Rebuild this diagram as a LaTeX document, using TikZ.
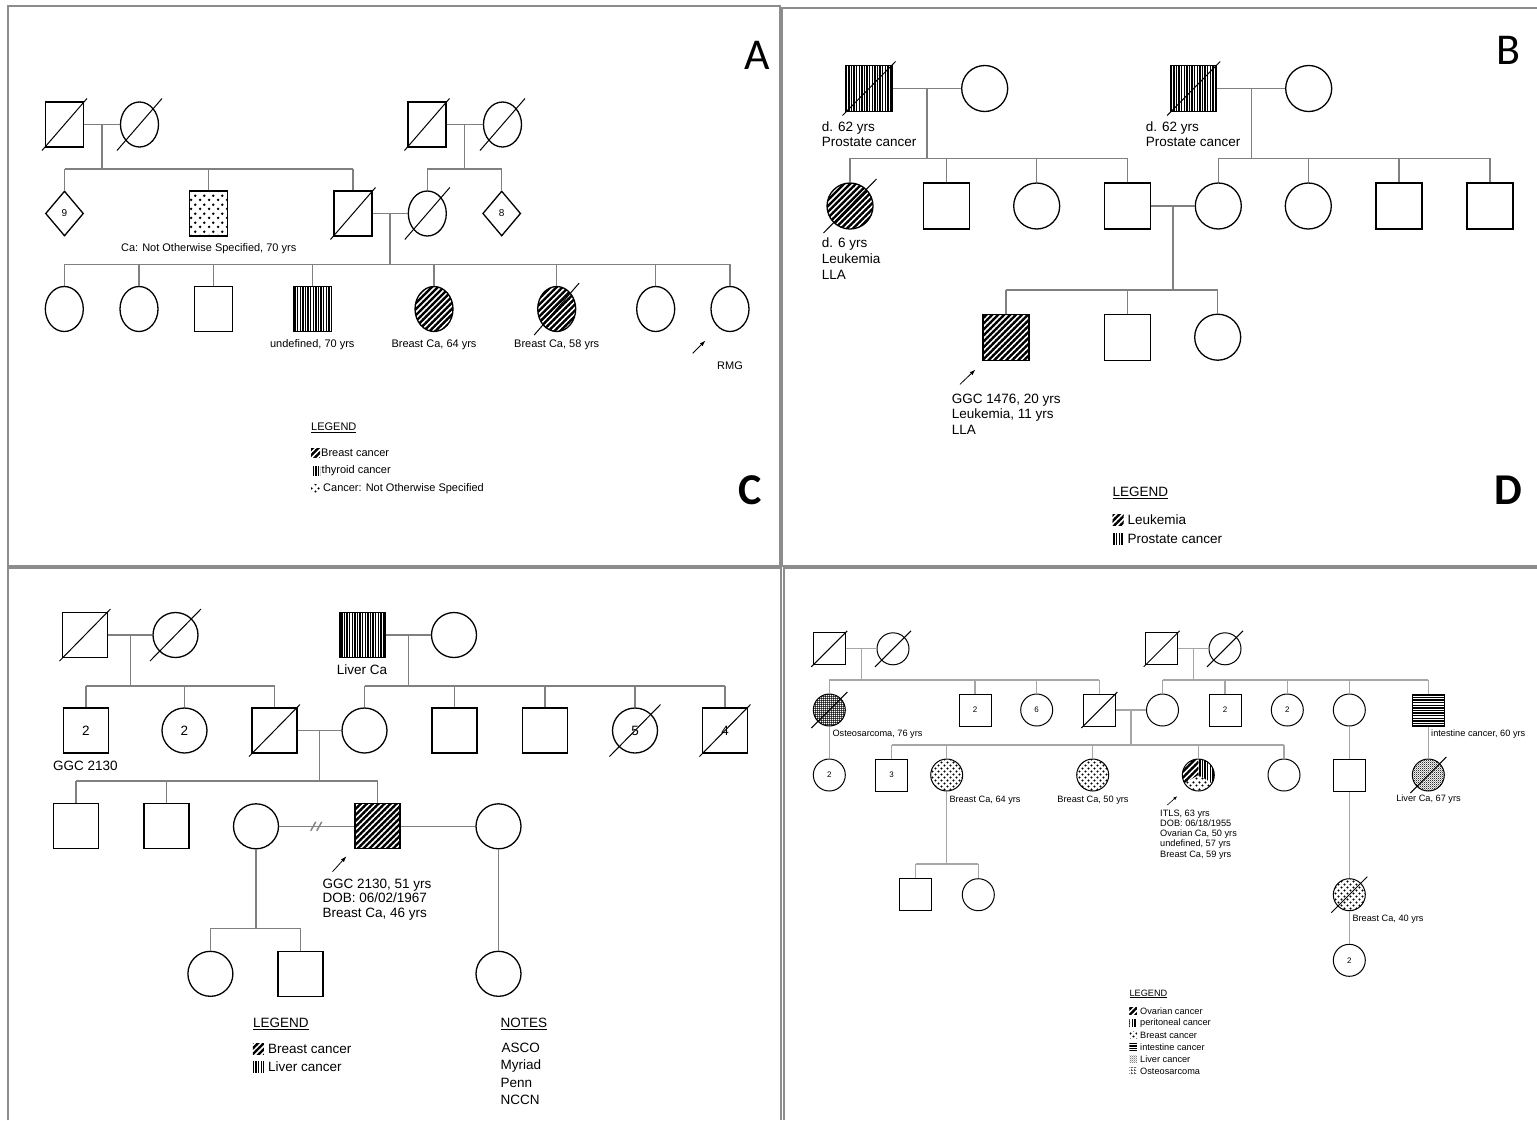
\documentclass[tikz,border=0pt]{standalone}
\usepackage{fontspec}
\setmainfont{Liberation Sans}
\newfontfamily\letterfont{Carlito}
\usetikzlibrary{shapes.geometric,patterns.meta,calc,arrows.meta}

% fill patterns of the pedigree symbols
\tikzdeclarepattern{name=hatch, type=uncolored,
  bottom left={(-.5pt,-.5pt)}, top right={(4.7pt,4.7pt)},
  tile size={(4.2pt,4.2pt)}, tile transformation={rotate=-45},
  code={\draw[line width=2.3pt] (2.1pt,-.5pt) -- (2.1pt,4.7pt);}}
\tikzdeclarepattern{name=vlines, type=uncolored,
  bottom left={(-.5pt,-.5pt)}, top right={(3.1pt,3.1pt)},
  tile size={(2.6pt,2.6pt)},
  code={\draw[line width=1.5pt] (1.3pt,-.5pt) -- (1.3pt,3.1pt);}}
\tikzdeclarepattern{name=hlines, type=uncolored,
  bottom left={(-.5pt,-.5pt)}, top right={(3.1pt,3.1pt)},
  tile size={(2.6pt,2.6pt)},
  code={\draw[line width=1.3pt] (-.5pt,1.3pt) -- (3.1pt,1.3pt);}}
\tikzdeclarepattern{name=spots, type=uncolored,
  bottom left={(0pt,0pt)}, top right={(9pt,9pt)},
  tile size={(9pt,9pt)},
  code={\fill (2.25pt,2.25pt) circle (1.5pt); \fill (6.75pt,6.75pt) circle (1.5pt);}}
\tikzdeclarepattern{name=finespots, type=uncolored,
  bottom left={(0pt,0pt)}, top right={(6.4pt,6.4pt)},
  tile size={(6.4pt,6.4pt)},
  code={\fill (1.6pt,1.6pt) circle (1.25pt); \fill (4.8pt,4.8pt) circle (1.25pt);}}
\tikzdeclarepattern{name=mesh, type=uncolored,
  bottom left={(0pt,0pt)}, top right={(2.4pt,2.4pt)},
  tile size={(2.4pt,2.4pt)},
  code={\fill (0pt,0pt) rectangle (2.4pt,.9pt); \fill (0pt,0pt) rectangle (.9pt,2.4pt);}}
\tikzdeclarepattern{name=checker, type=uncolored,
  bottom left={(0pt,0pt)}, top right={(2.2pt,2.2pt)},
  tile size={(2.2pt,2.2pt)},
  code={\fill (0pt,0pt) rectangle (1.1pt,1.1pt); \fill (1.1pt,1.1pt) rectangle (2.2pt,2.2pt);}}

\newcommand{\fa}{\fontsize{11}{13}\selectfont}
\newcommand{\fb}{\fontsize{13.5}{15.7}\selectfont}
\newcommand{\fc}{\fontsize{13.5}{14.9}\selectfont}
\newcommand{\fd}{\fontsize{9.2}{10.3}\selectfont}
% slash through a deceased person
\newcommand{\deadmark}[3]{\draw[slash] ($(#1.center)+(-#2,#3)$) -- ($(#1.center)+(#2,-#3)$);}

\begin{document}
\begin{tikzpicture}[x=1pt,y=-1pt,
    frame/.style={draw=black!45, line width=2pt},
    link/.style={draw=black!50, line width=1.4pt},
    linkd/.style={draw=black!35, line width=1.2pt},
    slash/.style={draw=black, line width=1pt},
    ind/.style={draw=black, line width=1.3pt, inner sep=0pt, fill=white},
    sqa/.style={ind, rectangle, minimum width=38pt, minimum height=45pt},
    cia/.style={ind, ellipse, minimum width=38pt, minimum height=45pt},
    dma/.style={ind, diamond, minimum width=38pt, minimum height=45pt, font=\fontsize{10}{12}\selectfont},
    sqb/.style={ind, rectangle, minimum size=46pt},
    cib/.style={ind, circle, minimum size=46pt},
    sqc/.style={ind, rectangle, minimum size=45pt, font=\fc},
    cic/.style={ind, circle, minimum size=45pt, font=\fc},
    sqd/.style={ind, line width=1pt, rectangle, minimum size=32pt, font=\fontsize{8}{9}\selectfont},
    cid/.style={ind, line width=1pt, circle, minimum size=32pt, font=\fontsize{8}{9}\selectfont},
    swatch/.style={inner sep=0pt, minimum width=#1, minimum height=#1},
    proarrow/.style={-{Latex[length=6pt,width=4pt]}, line width=.8pt, black},
    ta/.style={font=\fa, inner sep=0pt},
    tb/.style={font=\fb, inner sep=0pt},
    tc/.style={font=\fc, inner sep=0pt},
    td/.style={font=\fd, inner sep=0pt},
    letter/.style={font=\letterfont\fontsize{44}{44}\selectfont, inner sep=0pt}]

\useasboundingbox (0,0) rectangle (1537,1120);
\fill[white] (0,0) rectangle (1537,1120);

% panel frames
\draw[frame] (8,6) rectangle (780,566);
\draw[frame] (1537,8) -- (782,8) -- (782,566) -- (1537,566);
\draw[frame] (8,1120) -- (8,568) -- (781,568) -- (781,1120);
\draw[frame] (1537,568) -- (784,568) -- (784,1120);

\node[letter] (labA) at (757,55) {A};
\node[letter] (labB) at (1508,50) {B};
\node[letter, font=\letterfont\bfseries\fontsize{44}{44}\selectfont] (labC) at (750,490) {C};
\node[letter, font=\letterfont\bfseries\fontsize{44}{44}\selectfont] (labD) at (1508,490) {D};

%%%% panel A
\node[sqa] (aI1) at (64.5,124.5) {};
\node[cia] (aI2) at (139.5,124.5) {};
\node[sqa] (aI3) at (427,124.5) {};
\node[cia] (aI4) at (502.5,124.5) {};
\node[dma] (aII1) at (64.5,213.5) {9};
\node[sqa, pattern=spots] (aII2) at (208.5,213.5) {};
\node[sqa] (aII3) at (353,213.5) {};
\node[cia] (aII4) at (427.3,213.5) {};
\node[dma] (aII5) at (501.7,213.5) {8};
\node[cia] (aIII1) at (64.3,309) {};
\node[cia] (aIII2) at (139,309) {};
\node[sqa] (aIII3) at (213.3,309) {};
\node[sqa, pattern=vlines] (aIII4) at (312.3,309) {};
\node[cia, pattern=hatch] (aIII5) at (434,309) {};
\node[cia, pattern=hatch] (aIII6) at (556.7,309) {};
\node[cia] (aIII7) at (655.7,309) {};
\node[cia] (aIII8) at (730,309) {};
\foreach \n in {aI1,aI2,aI3,aI4,aII3,aII4,aIII6}{\deadmark{\n}{22.5}{26}}

\coordinate (am1) at ($(aI1)!.5!(aI2)$);
\coordinate (am2) at ($(aI3)!.5!(aI4)$);
\coordinate (am3) at ($(aII3)!.5!(aII4)$);
\coordinate (as1) at (0,169);
\coordinate (as3) at (0,264.3);
\draw[link] (aI1) -- (aI2);
\draw[link] (aI3) -- (aI4);
\draw[link] (aII3) -- (aII4);
\draw[link] (am1) -- (am1 |- as1);
\draw[link] (aII1.north |- as1) -- (aII3.north |- as1);
\foreach \n in {aII1,aII2,aII3}{\draw[link] (\n.north) -- (\n.north |- as1);}
\draw[link] (am2) -- (am2 |- as1);
\draw[link] (aII4.north |- as1) -- (aII5.north |- as1);
\foreach \n in {aII4,aII5}{\draw[link] (\n.north) -- (\n.north |- as1);}
\draw[link] (am3) -- (am3 |- as3);
\draw[link] (aIII1.north |- as3) -- (aIII8.north |- as3);
\foreach \n in {aIII1,aIII2,aIII3,aIII4,aIII5,aIII6,aIII7,aIII8}{\draw[link] (\n.north) -- (\n.north |- as3);}

\node[ta] (aT1) at (208.7,249) {Ca: Not Otherwise Specified, 70 yrs};
\node[ta] (aT2) at (312.3,345) {undefined, 70 yrs};
\node[ta] (aT3) at (434,345) {Breast Ca, 64 yrs};
\node[ta] (aT4) at (556.7,345) {Breast Ca, 58 yrs};
\coordinate (aP0) at (692.7,353.3);
\coordinate (aP1) at (705.5,340.5);
\draw[proarrow] (aP0) -- (aP1);
\node[ta] (aT5) at (730,366) {RMG};

\node[ta, anchor=west] (aLg) at (311,428) {\underline{LEGEND}};
\node[swatch=9pt, pattern=hatch] (aS1) at (315.5,453) {};
\node[swatch=9pt, pattern=vlines] (aS2) at (315.5,471) {};
\node[swatch=9pt, pattern=finespots] (aS3) at (315.5,489) {};
\node[ta, anchor=west] (aL1) at (321,453) {Breast cancer};
\node[ta, anchor=west] (aL2) at (321.5,471) {thyroid cancer};
\node[ta, anchor=west] (aL3) at (323,489) {Cancer: Not Otherwise Specified};

%%%% panel B
\node[sqb, pattern=vlines] (bI1) at (869,88.5) {};
\node[cib] (bI2) at (984.7,88.5) {};
\node[sqb, pattern=vlines] (bI3) at (1193.7,88.5) {};
\node[cib] (bI4) at (1308.7,88.5) {};
\node[cib, pattern=hatch] (bII1) at (850,206) {};
\node[sqb] (bII2) at (946.7,206) {};
\node[cib] (bII3) at (1036.7,206) {};
\node[sqb] (bII4) at (1127.7,206) {};
\node[cib] (bII5) at (1218.3,206) {};
\node[cib] (bII6) at (1308.3,206) {};
\node[sqb] (bII7) at (1399,206) {};
\node[sqb] (bII8) at (1490,206) {};
\node[sqb, pattern=hatch] (bIII1) at (1006,337.2) {};
\node[sqb] (bIII2) at (1127.7,337.2) {};
\node[cib] (bIII3) at (1217.7,337.2) {};
\foreach \n in {bI1,bI3,bII1}{\deadmark{\n}{26.5}{27}}

\coordinate (bm1) at ($(bI1)!.5!(bI2)$);
\coordinate (bm2) at ($(bI3)!.5!(bI4)$);
\coordinate (bm3) at ($(bII4)!.5!(bII5)$);
\coordinate (bs1) at (0,158.3);
\coordinate (bs3) at (0,290);
\draw[link] (bI1) -- (bI2);
\draw[link] (bI3) -- (bI4);
\draw[link] (bII4) -- (bII5);
\draw[link] (bm1) -- (bm1 |- bs1);
\draw[link] (bII1.north |- bs1) -- (bII4.north |- bs1);
\foreach \n in {bII1,bII2,bII3,bII4}{\draw[link] (\n.north) -- (\n.north |- bs1);}
\draw[link] (bm2) -- (bm2 |- bs1);
\draw[link] (bII5.north |- bs1) -- (bII8.north |- bs1);
\foreach \n in {bII5,bII6,bII7,bII8}{\draw[link] (\n.north) -- (\n.north |- bs1);}
\draw[link] (bm3) -- (bm3 |- bs3);
\draw[link] (bIII1.north |- bs3) -- (bIII3.north |- bs3);
\foreach \n in {bIII1,bIII2,bIII3}{\draw[link] (\n.north) -- (\n.north |- bs3);}

\node[tb, anchor=north west, align=left] (bT1) at (821.7,121.1) {d. 62 yrs\\Prostate cancer};
\node[tb, anchor=north west, align=left] (bT2) at (1145.7,121.1) {d. 62 yrs\\Prostate cancer};
\node[tb, anchor=north west, align=left] (bT3) at (821.7,237.8) {d. 6 yrs\\Leukemia\\LLA};
\coordinate (bP0) at (960,384.3);
\coordinate (bP1) at (975.5,369.5);
\draw[proarrow] (bP0) -- (bP1);
\node[tb, anchor=north west, align=left] (bT4) at (951.7,393.4) {GGC 1476, 20 yrs\\Leukemia, 11 yrs\\LLA};

\node[tb, anchor=west] (bLg) at (1112.3,493.3) {\underline{LEGEND}};
\node[swatch=11pt, pattern=hatch] (bS1) at (1118,520) {};
\node[swatch=11pt, pattern=vlines] (bS2) at (1118,539.3) {};
\node[tb, anchor=west] (bL1) at (1127.3,520) {Leukemia};
\node[tb, anchor=west] (bL2) at (1127.3,539.3) {Prostate cancer};

%%%% panel C
\node[sqc] (cI1) at (85,635) {};
\node[cic] (cI2) at (175.5,635) {};
\node[sqc, pattern=vlines] (cI3) at (362.5,635) {};
\node[cic] (cI4) at (454,635) {};
\node[sqc] (cII1) at (86,730.5) {2};
\node[cic] (cII2) at (184.5,730.5) {2};
\node[sqc] (cII3) at (274.5,730.5) {};
\node[cic] (cII4) at (364.5,730.5) {};
\node[sqc] (cII5) at (454.5,730.5) {};
\node[sqc] (cII6) at (545,730.5) {};
\node[cic] (cII7) at (635,730.5) {5};
\node[sqc] (cII8) at (725,730.5) {4};
\node[sqc] (cIII1) at (76,826.3) {};
\node[sqc] (cIII2) at (166.5,826.3) {};
\node[cic] (cX1) at (256,826.3) {};
\node[sqc, pattern=hatch] (cIII3) at (377.5,826.3) {};
\node[cic] (cX2) at (498.5,826.3) {};
\node[cic] (cIV1) at (210.4,973.8) {};
\node[sqc] (cIV2) at (300.4,973.8) {};
\node[cic] (cIV3) at (498.5,973.8) {};
\foreach \n in {cI1,cI2,cII3,cII7,cII8}{\deadmark{\n}{25.5}{26}}

\coordinate (cm1) at ($(cI1)!.5!(cI2)$);
\coordinate (cm2) at ($(cI3)!.5!(cI4)$);
\coordinate (cm3) at ($(cII3)!.5!(cII4)$);
\coordinate (cdv) at ($(cX1)!.5!(cIII3)$);
\coordinate (cs1) at (0,686);
\coordinate (cs3) at (0,781);
\coordinate (cs4) at (0,928.3);
\draw[link] (cI1) -- (cI2);
\draw[link] (cI3) -- (cI4);
\draw[link] (cII3) -- (cII4);
\draw[link] (cX1) -- (cIII3);
\draw[link] (cIII3) -- (cX2);
\draw[link] ($(cdv)+(-6,4.5)$) -- ($(cdv)+(-1,-4.5)$);
\draw[link] ($(cdv)+(0,4.5)$) -- ($(cdv)+(5,-4.5)$);
\draw[link] (cm1) -- (cm1 |- cs1);
\draw[link] (cII1.north |- cs1) -- (cII3.north |- cs1);
\foreach \n in {cII1,cII2,cII3}{\draw[link] (\n.north) -- (\n.north |- cs1);}
\draw[link] (cm2) -- (cm2 |- cs1);
\draw[link] (cII4.north |- cs1) -- (cII8.north |- cs1);
\foreach \n in {cII4,cII5,cII6,cII7,cII8}{\draw[link] (\n.north) -- (\n.north |- cs1);}
\draw[link] (cm3) -- (cm3 |- cs3);
\draw[link] (cIII1.north |- cs3) -- (cIII3.north |- cs3);
\foreach \n in {cIII1,cIII2,cIII3}{\draw[link] (\n.north) -- (\n.north |- cs3);}
\draw[link] (cX1.south) -- (cX1.south |- cs4);
\draw[link] (cIV1.north |- cs4) -- (cIV2.north |- cs4);
\foreach \n in {cIV1,cIV2}{\draw[link] (\n.north) -- (\n.north |- cs4);}
\draw[link] (cX2) -- (cIV3);

\node[tc] (cT1) at (85.5,766) {GGC 2130};
\node[tc] (cT2) at (362,670) {Liver Ca};
\coordinate (cP0) at (332.5,871.7);
\coordinate (cP1) at (346.5,856.2);
\draw[proarrow] (cP0) -- (cP1);
\node[tc, anchor=north west, align=left] (cT3) at (322.5,878.4) {GGC 2130, 51 yrs\\DOB: 06/02/1967\\Breast Ca, 46 yrs};

\node[tc, anchor=west] (cLg) at (252.8,1024) {\underline{LEGEND}};
\node[swatch=11pt, pattern=hatch] (cS1) at (258.4,1049.3) {};
\node[swatch=11pt, pattern=vlines] (cS2) at (258.4,1066.7) {};
\node[tc, anchor=west] (cL1) at (268,1049.3) {Breast cancer};
\node[tc, anchor=west] (cL2) at (268,1066.7) {Liver cancer};
\node[tc, anchor=west] (cNt) at (500.4,1024) {\underline{NOTES}};
\node[tc, anchor=west] (cN1) at (501.5,1048.3) {ASCO};
\node[tc, anchor=west] (cN2) at (500.4,1065.7) {Myriad};
\node[tc, anchor=west] (cN3) at (500.4,1083) {Penn};
\node[tc, anchor=west] (cN4) at (500.4,1100) {NCCN};

%%%% panel D
\node[sqd] (dI1) at (829.3,648.8) {};
\node[cid] (dI2) at (893,648.8) {};
\node[sqd] (dI3) at (1161.7,648.8) {};
\node[cid] (dI4) at (1225,648.8) {};
\node[cid, pattern=mesh] (dII1) at (829.3,710) {};
\node[sqd] (dII2) at (975,710) {2};
\node[cid] (dII3) at (1036.7,710) {6};
\node[sqd] (dII4) at (1099.3,710) {};
\node[cid] (dII5) at (1162.5,710) {};
\node[sqd] (dII6) at (1225,710) {2};
\node[cid] (dII7) at (1287.3,710) {2};
\node[cid] (dII8) at (1349.3,710) {};
\node[sqd, pattern=hlines] (dII9) at (1428.3,710) {};
\node[cid] (dIII1) at (829.3,775) {2};
\node[sqd] (dIII2) at (891.7,775) {3};
\node[cid, pattern=finespots] (dIII3) at (946.7,775) {};
\node[cid, pattern=finespots] (dIII4) at (1092.7,775) {};
\node[cid, path picture={
    \fill[pattern=hatch] (path picture bounding box.center) -- ++(0,-30) -- ++(-30,0) -- ++(0,47.3) -- cycle;
    \fill[pattern=vlines] (path picture bounding box.center) -- ++(0,-30) -- ++(30,0) -- ++(0,47.3) -- cycle;
    \fill[pattern=finespots] (path picture bounding box.center) -- ++(-30,17.3) -- ++(0,20) -- ++(60,0) -- ++(0,-20) -- cycle;
  }] (dIII5) at (1198.3,775) {};
\node[cid] (dIII6) at (1284,775) {};
\node[sqd] (dIII7) at (1349.3,775) {};
\node[cid, pattern=checker, pattern color=black!80] (dIII8) at (1428.3,775) {};
\node[sqd] (dIV1) at (915.7,894.7) {};
\node[cid] (dIV2) at (978.3,894.7) {};
\node[cid, pattern=finespots] (dIV3) at (1349.3,894.7) {};
\node[cid] (dV1) at (1349.3,960.3) {2};
\foreach \n in {dI1,dI2,dI3,dI4,dII1,dII4,dIII8,dIV3}{\deadmark{\n}{18}{18}}

\coordinate (dm1) at ($(dI1)!.5!(dI2)$);
\coordinate (dm2) at ($(dI3)!.5!(dI4)$);
\coordinate (dm3) at ($(dII4)!.5!(dII5)$);
\coordinate (ds1) at (0,680);
\coordinate (ds3) at (0,745);
\coordinate (ds4) at (0,864);
\draw[linkd] (dI1) -- (dI2);
\draw[linkd] (dI3) -- (dI4);
\draw[linkd] (dII4) -- (dII5);
\draw[linkd] (dm1) -- (dm1 |- ds1);
\draw[linkd] (dII1.north |- ds1) -- (dII4.north |- ds1);
\foreach \n in {dII1,dII2,dII3,dII4}{\draw[linkd] (\n.north) -- (\n.north |- ds1);}
\draw[linkd] (dm2) -- (dm2 |- ds1);
\draw[linkd] (dII5.north |- ds1) -- (dII9.north |- ds1);
\foreach \n in {dII5,dII6,dII7,dII8,dII9}{\draw[linkd] (\n.north) -- (\n.north |- ds1);}
\draw[linkd] (dm3) -- (dm3 |- ds3);
\draw[linkd] (dIII2.north |- ds3) -- (dIII6.north |- ds3);
\foreach \n in {dIII2,dIII3,dIII4,dIII5,dIII6}{\draw[linkd] (\n.north) -- (\n.north |- ds3);}
\draw[linkd] (dII1) -- (dIII1);
\draw[linkd] (dII8) -- (dIII7);
\draw[linkd] (dII9) -- (dIII8);
\draw[linkd] (dIII7) -- (dIV3);
\draw[linkd] (dIV3) -- (dV1);
\draw[linkd] (dIII3.south) -- (dIII3.south |- ds4);
\draw[linkd] (dIV1.north |- ds4) -- (dIV2.north |- ds4);
\foreach \n in {dIV1,dIV2}{\draw[linkd] (\n.north) -- (\n.north |- ds4);}

\node[td, anchor=west] (dT1) at (832.3,734.3) {Osteosarcoma, 76 yrs};
\node[td, anchor=west] (dT2) at (949.3,800) {Breast Ca, 64 yrs};
\node[td] (dT3) at (1093,800) {Breast Ca, 50 yrs};
\node[td, anchor=west] (dT4) at (1431,734.3) {intestine cancer, 60 yrs};
\node[td] (dT5) at (1428.5,799.3) {Liver Ca, 67 yrs};
\node[td, anchor=west] (dT6) at (1352.3,919) {Breast Ca, 40 yrs};
\coordinate (dP0) at (1167.3,805);
\coordinate (dP1) at (1177.2,796.2);
\draw[proarrow, line width=.6pt, -{Latex[length=4pt,width=3pt]}] (dP0) -- (dP1);
\node[td, anchor=north west, align=left] (dT7) at (1160,809.4) {ITLS, 63 yrs\\DOB: 06/18/1955\\Ovarian Ca, 50 yrs\\undefined, 57 yrs\\Breast Ca, 59 yrs};

\node[td, anchor=west] (dLg) at (1129.3,994) {\underline{LEGEND}};
\node[swatch=7.5pt, pattern=hatch] (dS1) at (1133,1011) {};
\node[swatch=7.5pt, pattern=vlines] (dS2) at (1133,1023) {};
\node[swatch=7.5pt, pattern=finespots] (dS3) at (1133,1035) {};
\node[swatch=7.5pt, pattern=hlines] (dS4) at (1133,1047) {};
\node[swatch=7.5pt, pattern=checker, pattern color=black!50] (dS5) at (1133,1059) {};
\node[swatch=7.5pt, pattern=mesh, pattern color=black!60] (dS6) at (1133,1071) {};
\node[td, anchor=west] (dL1) at (1140,1011) {Ovarian cancer};
\node[td, anchor=west] (dL2) at (1140,1023) {peritoneal cancer};
\node[td, anchor=west] (dL3) at (1140,1035) {Breast cancer};
\node[td, anchor=west] (dL4) at (1140,1047) {intestine cancer};
\node[td, anchor=west] (dL5) at (1140,1059) {Liver cancer};
\node[td, anchor=west] (dL6) at (1140,1071) {Osteosarcoma};

\end{tikzpicture}
\end{document}
